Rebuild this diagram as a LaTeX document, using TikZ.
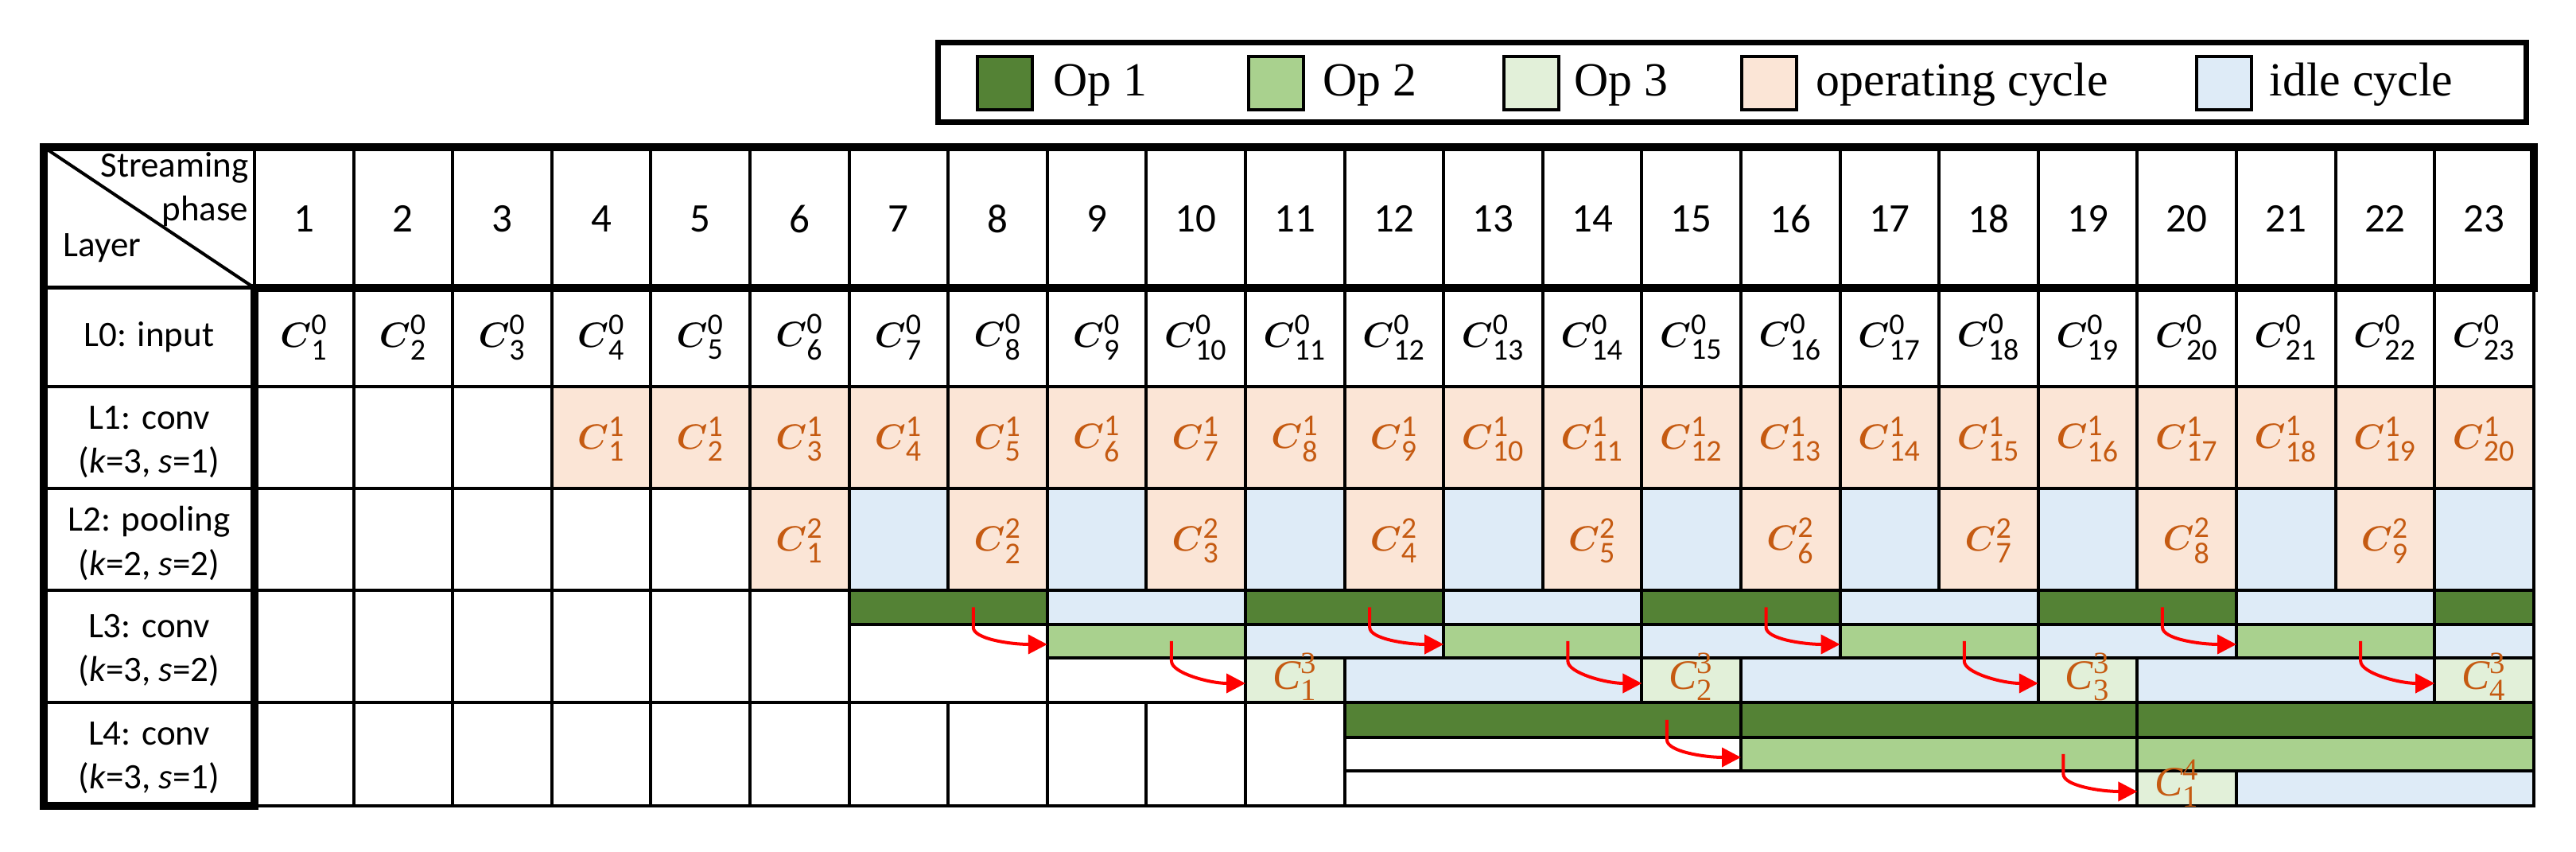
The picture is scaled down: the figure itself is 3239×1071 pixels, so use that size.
\RequirePackage{fix-cm}
\documentclass[tikz,border=0pt]{standalone}
\usepackage{amsmath,amsbsy}
\usepackage[no-math]{fontspec}
\setmainfont{Carlito}
\newfontfamily\legendfont{Liberation Serif}
\usetikzlibrary{arrows.meta,calc}
\DeclareMathSizes{12.5}{12.5}{10.8}{8}
\DeclareMathSizes{15}{15}{11}{8}
\definecolor{opone}{HTML}{548235}
\definecolor{optwo}{HTML}{A9D18E}
\definecolor{opthree}{HTML}{E2F0D9}
\definecolor{opcyc}{HTML}{FBE5D6}
\definecolor{idlecyc}{HTML}{DEEBF7}
\definecolor{corange}{HTML}{C55A11}
\newcommand\lab[2]{{\fontsize{12.5}{15}\selectfont$\boldsymbol{C}^{\text{#1}}_{\text{#2}}$}}
\newcommand\labthin[2]{{\fontsize{15}{18}\selectfont$\text{\legendfont\itshape C}^{\text{\legendfont #1}}_{\text{\legendfont #2}}$}}
% name, first col, last col, ytop, ybot, fill
\newcommand\segnode[6]{%
  \pgfmathsetmacro\xa{320+124.6*(#2-1)}%
  \pgfmathsetmacro\xb{320+124.6*(#3)}%
  \node[segbox, fill=#6, minimum width={(\xb-\xa)*0.01cm}, minimum height={(#5-#4)*0.01cm}] (#1) at ({(\xa+\xb)/2},{(#4+#5)/2}) {};}
\newcommand\flowto[2]{\draw[flowarrow] ([xshift=-0.93cm]#1.east) -- ++(0,25) .. controls +(0,15) and +(-45,0) .. ([yshift=-0.04cm]#2.west);}
\begin{document}
\begin{tikzpicture}[x=0.01cm,y=-0.01cm,
  gridline/.style={line width=0.04cm},
  heavyline/.style={line width=0.1cm, line join=miter},
  segbox/.style={draw, line width=0.04cm, inner sep=0pt, outer sep=0pt, rectangle},
  flowarrow/.style={red, line width=0.04cm, -{Triangle[length=0.24cm,width=0.24cm]}},
  rowlabel/.style={align=center, font=\fontsize{12.8}{15.65}\selectfont, inner sep=0pt},
  phasenum/.style={font=\fontsize{14.5}{17}\selectfont, inner sep=0pt},
  clab/.style={inner sep=0pt},
  legtext/.style={anchor=base west, inner sep=0pt, font=\legendfont\fontsize{17}{20}\selectfont},
  swatch/.style={draw, line width=0.04cm, minimum width=0.69cm, minimum height=0.67cm, inner sep=0pt}
]
\useasboundingbox (0,0) rectangle (3239,1071);
\fill[white] (0,0) rectangle (3239,1071);

% ---------- legend ----------
\node[draw, line width=0.07cm, minimum width=19.96cm, minimum height=1cm, inner sep=0pt] (legend) at (2178,103.5) {};
\node[swatch, fill=opone] (sw1) at (1263.5,104.5) {};
\node[legtext] (lt1) at (1324,121) {Op 1};
\node[swatch, fill=optwo] (sw2) at (1604.5,104.5) {};
\node[legtext] (lt2) at (1663,121) {Op 2};
\node[swatch, fill=opthree] (sw3) at (1925,104.5) {};
\node[legtext] (lt3) at (1979,121) {Op 3};
\node[swatch, fill=opcyc] (sw4) at (2224,104.5) {};
\node[legtext] (lt4) at (2283,121) {operating cycle};
\node[swatch, fill=idlecyc] (sw5) at (2796,104.5) {};
\node[legtext] (lt5) at (2853,121) {idle cycle};

% ---------- fills L1, L2 ----------
\foreach \i in {4,...,23}
  \fill[opcyc] ({320+124.6*(\i-1)},486) rectangle ({320+124.6*\i},614.5);
\foreach \i in {6,8,...,22}
  \fill[opcyc] ({320+124.6*(\i-1)},614.5) rectangle ({320+124.6*\i},742);
\foreach \i in {7,9,...,23}
  \fill[idlecyc] ({320+124.6*(\i-1)},614.5) rectangle ({320+124.6*\i},742);

% ---------- grid lines ----------
\foreach \k in {1,...,22}
  \draw[gridline] ({320+124.6*\k},185) -- ({320+124.6*\k},742);
\foreach \k in {1,...,6}
  \draw[gridline] ({320+124.6*\k},742) -- ({320+124.6*\k},883);
\foreach \k in {1,...,11}
  \draw[gridline] ({320+124.6*\k},883) -- ({320+124.6*\k},1013);
\foreach \y in {486,614.5,742,883}
  \draw[gridline] (55,\y) -- (3186,\y);
\draw[line width=0.05cm] (55,362) -- (320,362);
\draw[gridline] (320,185) -- (320,362);
\draw[gridline] (55,185) -- (320,362);
\draw[gridline] (3186,362) -- (3186,1013) -- (320,1013);

% ---------- L3 segments ----------
\segnode{a7}{7}{8}{742}{785}{opone}
\segnode{a9}{9}{10}{742}{785}{idlecyc}
\segnode{a11}{11}{12}{742}{785}{opone}
\segnode{a13}{13}{14}{742}{785}{idlecyc}
\segnode{a15}{15}{16}{742}{785}{opone}
\segnode{a17}{17}{18}{742}{785}{idlecyc}
\segnode{a19}{19}{20}{742}{785}{opone}
\segnode{a21}{21}{22}{742}{785}{idlecyc}
\segnode{a23}{23}{23}{742}{785}{opone}
\segnode{wA}{7}{8}{785}{883}{white}
\segnode{b9}{9}{10}{785}{827}{optwo}
\segnode{b11}{11}{12}{785}{827}{idlecyc}
\segnode{b13}{13}{14}{785}{827}{optwo}
\segnode{b15}{15}{16}{785}{827}{idlecyc}
\segnode{b17}{17}{18}{785}{827}{optwo}
\segnode{b19}{19}{20}{785}{827}{idlecyc}
\segnode{b21}{21}{22}{785}{827}{optwo}
\segnode{b23}{23}{23}{785}{827}{idlecyc}
\segnode{wB}{9}{10}{827}{883}{white}
\segnode{c11}{11}{11}{827}{883}{opthree}
\segnode{c12}{12}{14}{827}{883}{idlecyc}
\segnode{c15}{15}{15}{827}{883}{opthree}
\segnode{c16}{16}{18}{827}{883}{idlecyc}
\segnode{c19}{19}{19}{827}{883}{opthree}
\segnode{c20}{20}{22}{827}{883}{idlecyc}
\segnode{c23}{23}{23}{827}{883}{opthree}

% ---------- L4 segments ----------
\segnode{d12}{12}{15}{883}{927}{opone}
\segnode{d16}{16}{19}{883}{927}{opone}
\segnode{d20}{20}{23}{883}{927}{opone}
\segnode{e12}{12}{15}{927}{969}{white}
\segnode{e16}{16}{19}{927}{969}{optwo}
\segnode{e20}{20}{23}{927}{969}{optwo}
\segnode{f12}{12}{19}{969}{1013}{white}
\segnode{f20}{20}{20}{969}{1013}{opthree}
\segnode{f21}{21}{23}{969}{1013}{idlecyc}

% ---------- heavy borders ----------
\draw[heavyline] (55,1013) -- (55,185) -- (3186,185) -- (3186,362) -- (320,362) -- (320,1013) -- cycle;

% ---------- header texts ----------
\node[anchor=base east, inner sep=0pt, font=\fontsize{12.8}{15.65}\selectfont] (hs) at (313,223) {Streaming};
\node[anchor=base east, inner sep=0pt, font=\fontsize{12.8}{15.65}\selectfont] (hp) at (313,278) {phase};
\node[anchor=base west, inner sep=0pt, font=\fontsize{12.8}{15.65}\selectfont] (hl) at (79,323) {Layer};
\foreach \i in {1,...,23}
  \node[phasenum] (h\i) at ({320+124.6*(\i-0.5)},275) {\i};

% ---------- row labels ----------
\node[rowlabel] (r0) at (187.5,424) {L0: input};
\node[rowlabel] (r1) at (187.5,556) {L1: conv\\(\textit{k}=3, \textit{s}=1)};
\node[rowlabel] (r2) at (187.5,683) {L2: pooling\\(\textit{k}=2, \textit{s}=2)};
\node[rowlabel] (r3) at (187.5,818) {L3: conv\\(\textit{k}=3, \textit{s}=2)};
\node[rowlabel] (r4) at (187.5,953) {L4: conv\\(\textit{k}=3, \textit{s}=1)};

% ---------- cell labels ----------
\foreach \i in {1,...,23}
  \node[clab] (z\i) at ({320+124.6*(\i-0.5)},424) {\lab{0}{\i}};
\foreach \i in {1,...,20}
  \node[clab, text=corange] (o\i) at ({320+124.6*(\i+2.5)},552) {\lab{1}{\i}};
\foreach \i in {1,...,9}
  \node[clab, text=corange] (t\i) at ({320+124.6*(2*\i+3.5)},680) {\lab{2}{\i}};
\node[clab, text=corange] (l31) at ([yshift=0.04cm]c11.center) {\labthin{3}{1}};
\node[clab, text=corange] (l32) at ([yshift=0.04cm]c15.center) {\labthin{3}{2}};
\node[clab, text=corange] (l33) at ([yshift=0.04cm]c19.center) {\labthin{3}{3}};
\node[clab, text=corange] (l34) at ([yshift=0.04cm]c23.center) {\labthin{3}{4}};
\node[clab, text=corange] (l41) at ([xshift=-0.12cm,yshift=0.06cm]f20.center) {\labthin{4}{1}};

% ---------- arrows ----------
\flowto{a7}{b9}
\flowto{b9}{c11}
\flowto{a11}{b13}
\flowto{b13}{c15}
\flowto{a15}{b17}
\flowto{b17}{c19}
\flowto{a19}{b21}
\flowto{b21}{c23}
\flowto{d12}{e16}
\flowto{e16}{f20}
\end{tikzpicture}
\end{document}
